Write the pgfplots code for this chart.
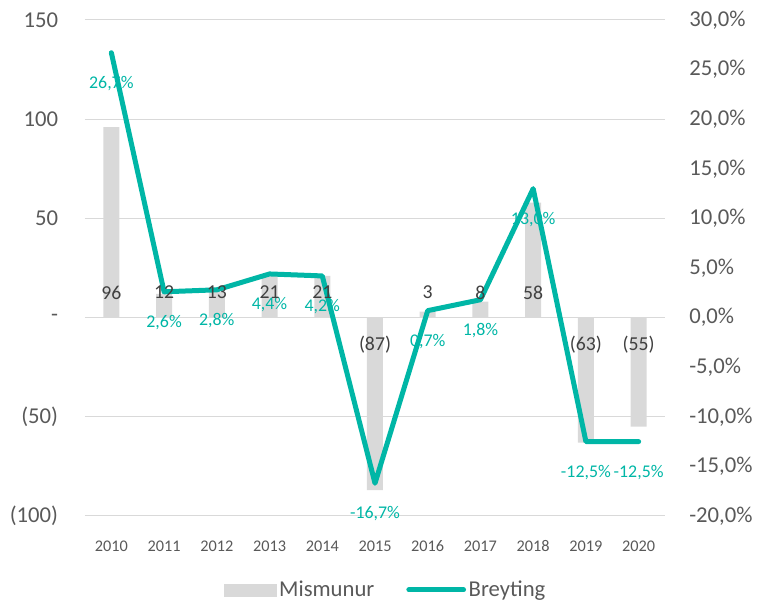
\documentclass[border=0pt]{standalone}
\usepackage{fontspec}
\setmainfont{Carlito}
\usepackage{pgfplots}
\pgfplotsset{compat=1.18}
\definecolor{teal1}{RGB}{0,182,166}
\definecolor{barg}{RGB}{217,217,217}
\definecolor{txt}{RGB}{89,89,89}
\definecolor{lbl}{RGB}{64,64,64}
\begin{document}
\begin{tikzpicture}
\path[use as bounding box] (-63.75pt,-64.5pt) rectangle (504.75pt,387pt);
% axis 1: bars (left axis)
\begin{axis}[at={(0,0)}, anchor=south west, scale only axis, width=435pt, height=372pt,
  xmin=-0.5, xmax=10.5, ymin=-100, ymax=150,
  axis line style={draw=none}, tick style={draw=none},
  ytick={-100,-50,0,50,100,150}, yticklabels={(100),(50),-,50,100,150},
  ymajorgrids, grid style={barg, line width=0.75pt},
  xtick={0,...,10}, xticklabels={2010,2011,2012,2013,2014,2015,2016,2017,2018,2019,2020},
  yticklabel style={font=\fontsize{17}{20}\selectfont, text=txt, inner sep=0pt},
  yticklabel shift=20pt,
  xticklabel style={font=\fontsize{12.2}{14}\selectfont, text=txt, inner sep=0pt, anchor=north},
  xticklabel shift=14pt,
  ybar, bar width=12pt]
\addplot[fill=barg, draw=none] coordinates {(0,96) (1,12) (2,13) (3,21) (4,21) (5,-87) (6,3) (7,8) (8,58) (9,-63) (10,-55)};
\end{axis}
% axis 2: line (right axis)
\begin{axis}[at={(0,0)}, anchor=south west, scale only axis, width=435pt, height=372pt,
  xmin=-0.5, xmax=10.5, ymin=-20, ymax=30,
  axis y line*=right, axis x line=none,
  axis line style={draw=none}, tick style={draw=none},
  ytick={-20,-15,...,30},
  /pgf/number format/assume math mode=true,
  yticklabel={\pgfmathprintnumber[fixed, fixed zerofill, precision=1, use comma]{\tick}\%},
  yticklabel style={font=\fontsize{17}{20}\selectfont, text=txt, inner sep=0pt, anchor=west},
  yticklabel shift=18pt,
  legend style={at={(0.519,-0.149)}, anchor=center, draw=none, fill=none,
    font=\fontsize{17}{20}\selectfont, text=txt, legend columns=2,
    /tikz/every even column/.append style={column sep=22pt}},
  ]
\addlegendimage{legend image code/.code={\fill[barg] (0pt,-4.5pt) rectangle (39pt,4.5pt);}}
\addlegendentry{Mismunur}
\addplot[teal1, line width=3.75pt, line join=round, line cap=round, mark=none,
  legend image code/.code={\draw[teal1, line width=3.75pt, line cap=round] (0pt,0pt) -- (41pt,0pt);},
  nodes near coords={\pgfmathprintnumber[fixed, fixed zerofill, precision=1, use comma]{\pgfplotspointmeta}\%},
  nodes near coords style={anchor=center, yshift=-23pt, font=\fontsize{13.4}{15}\selectfont, text=teal1, inner sep=0pt},
  point meta=y]
  coordinates {(0,26.7) (1,2.6) (2,2.8) (3,4.4) (4,4.2) (5,-16.7) (6,0.7) (7,1.8) (8,13.0) (9,-12.5) (10,-12.5)};
\addlegendentry{Breyting}
\end{axis}
% axis 3: bar labels
\begin{axis}[at={(0,0)}, anchor=south west, scale only axis, width=435pt, height=372pt,
  xmin=-0.5, xmax=10.5, ymin=-100, ymax=150, hide axis]
\addplot[draw=none, mark=none, nodes near coords, point meta=explicit symbolic,
  nodes near coords style={anchor=center, yshift=18.75pt, font=\fontsize{14.8}{17}\selectfont, text=lbl, inner sep=0pt}]
  table[row sep=\\, meta=l] {x y l\\ 0 0 96\\ 1 0 12\\ 2 0 13\\ 3 0 21\\ 4 0 21\\ 6 0 3\\ 7 0 8\\ 8 0 58\\};
\addplot[draw=none, mark=none, nodes near coords, point meta=explicit symbolic,
  nodes near coords style={anchor=center, yshift=-20pt, font=\fontsize{14.8}{17}\selectfont, text=lbl, inner sep=0pt}]
  table[row sep=\\, meta=l] {x y l\\ 5 0 (87)\\ 9 0 (63)\\ 10 0 (55)\\};
\end{axis}
\end{tikzpicture}
\end{document}
